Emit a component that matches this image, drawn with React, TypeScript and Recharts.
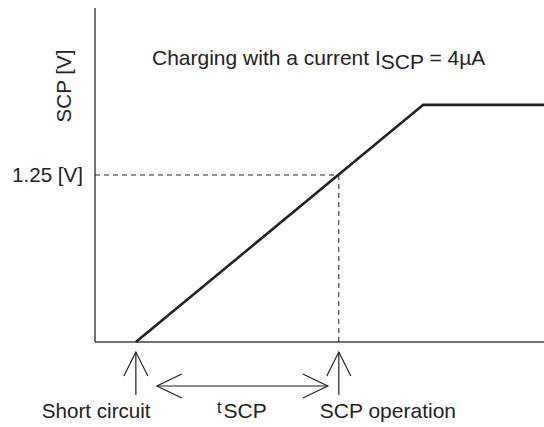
import { LineChart, Line, XAxis, YAxis, ReferenceLine } from "recharts";

// time axis in arbitrary units (0..100), voltage in V
const T_SHORT = 9.1;
const T_SCP = 54.3;
const T_CLAMP = 73.1;
const T_END = 100;
const V_TRIP = 1.25;
const V_CLAMP = 1.775;

const times = [T_SHORT, T_CLAMP, T_END];
const volts = [0, V_CLAMP, V_CLAMP];

const data = times.map((t, i) => ({ t, v: volts[i] }));

const W = 544;
const H = 427;
const M = { top: 8, right: 0, left: 95, bottom: 85 };
const X_DOMAIN = [0, 100];
const Y_DOMAIN = [0, 2.5];

// same linear mapping as the chart's plot area, for the annotations under the axis
const px = (t: number) =>
  M.left + ((t - X_DOMAIN[0]) / (X_DOMAIN[1] - X_DOMAIN[0])) * (W - M.left - M.right);
const py = (v: number) =>
  M.top + (1 - (v - Y_DOMAIN[0]) / (Y_DOMAIN[1] - Y_DOMAIN[0])) * (H - M.top - M.bottom);

const FONT = "'Liberation Sans', Arial, sans-serif";
const INK = "#222";

function UpArrow({ x }: { x: number }) {
  const y0 = py(0);
  return (
    <g stroke={INK} strokeWidth={1.2} fill="none">
      <line x1={x} y1={y0 + 10} x2={x} y2={y0 + 53} />
      <polyline points={`${x - 12},${y0 + 34} ${x},${y0 + 10} ${x + 12},${y0 + 34}`} />
    </g>
  );
}

export default function App() {
  const xs = px(T_SHORT);
  const xo = px(T_SCP);
  const y0 = py(0);
  const ay = y0 + 44;
  return (
    <div style={{ position: "absolute", left: 0, top: 0, width: W, height: H, background: "#fff" }}>
      <LineChart width={W} height={H} data={data} margin={M}>
        <XAxis type="number" dataKey="t" domain={X_DOMAIN} hide />
        <YAxis type="number" domain={Y_DOMAIN} hide />
        <ReferenceLine x={0} stroke="#444" strokeWidth={1.5} />
        <ReferenceLine y={0} stroke="#444" strokeWidth={1.5} />
        <ReferenceLine
          segment={[{ x: 0, y: V_TRIP }, { x: T_SCP, y: V_TRIP }]}
          stroke={INK}
          strokeDasharray="5 4"
        />
        <ReferenceLine
          segment={[{ x: T_SCP, y: 0 }, { x: T_SCP, y: V_TRIP }]}
          stroke={INK}
          strokeDasharray="5 4"
        />
        <Line
          type="linear"
          dataKey="v"
          stroke={INK}
          strokeWidth={2.6}
          dot={false}
          isAnimationActive={false}
        />
      </LineChart>
      <svg
        width={W}
        height={H}
        style={{ position: "absolute", left: 0, top: 0, pointerEvents: "none" }}
        fontFamily={FONT}
        fill={INK}
      >
        <text x={71} y={86} fontSize={20.6} textAnchor="middle" transform="rotate(-90 71 86)">
          SCP [V]
        </text>
        <text x={83} y={py(V_TRIP) + 7} fontSize={20.6} textAnchor="end">
          1.25 [V]
        </text>
        <text x={152} y={65} fontSize={21}>
          Charging with a current I
          <tspan dy={4}>SCP</tspan>
          <tspan dy={-4}> = 4µA</tspan>
        </text>

        <UpArrow x={xs} />
        <UpArrow x={xo} />
        <g stroke={INK} strokeWidth={1.2} fill="none">
          <line x1={xs + 21} y1={ay} x2={xo - 11} y2={ay} />
          <polyline points={`${xs + 46},${ay - 12} ${xs + 21},${ay} ${xs + 46},${ay + 12}`} />
          <polyline points={`${xo - 36},${ay - 12} ${xo - 11},${ay} ${xo - 36},${ay + 12}`} />
        </g>

        <text x={xs - 94} y={418} fontSize={20.6}>Short circuit</text>
        <text x={217} y={418} fontSize={21}>
          <tspan fontSize={16} dy={-5}>t</tspan>
          <tspan dx={2} dy={5}>SCP</tspan>
        </text>
        <text x={xo - 19} y={418} fontSize={21}>SCP operation</text>
      </svg>
    </div>
  );
}
